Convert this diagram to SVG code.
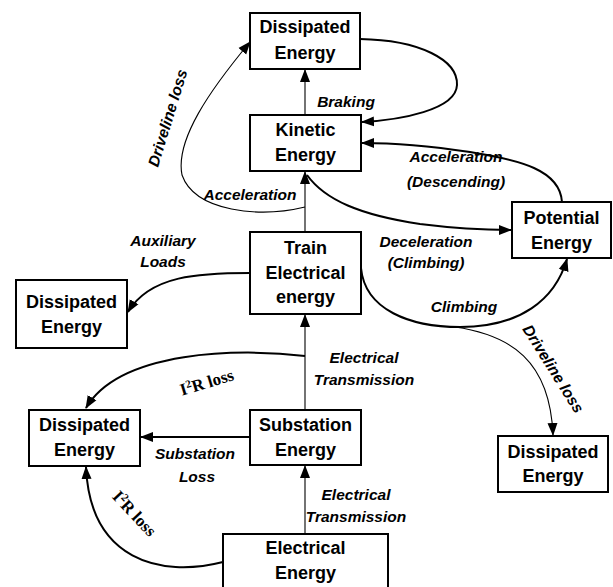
<svg xmlns="http://www.w3.org/2000/svg" width="613" height="587" viewBox="0 0 613 587">
<style>
.box{fill:#fff;stroke:#000;stroke-width:2}
.nt{font-family:"Liberation Sans",Arial,sans-serif;font-weight:bold;font-size:18px;text-anchor:middle;fill:#000}
.lb{font-family:"Liberation Sans",Arial,sans-serif;font-weight:bold;font-style:italic;font-size:15.5px;text-anchor:middle;fill:#000}
.sf{font-family:"Liberation Serif","Times New Roman",serif;font-weight:bold;font-size:17px;text-anchor:middle;fill:#000}
.thick{fill:none;stroke:#000;stroke-width:2;marker-end:url(#ah)}
.thin{fill:none;stroke:#000;stroke-width:1.1;marker-end:url(#ah)}
</style>
<defs>
<marker id="ah" markerUnits="userSpaceOnUse" markerWidth="13" markerHeight="11" refX="12" refY="5" orient="auto" viewBox="0 0 13 10">
<path d="M0,0 L13,5 L0,10 z" fill="#000"/>
</marker>
</defs>
<rect width="613" height="587" fill="#fff"/>
<g id="connectors">
<path class="thin" d="M305,115 L305,70"/>
<path class="thick" d="M360,39 C420,40 458,60 457,85 C456,110 400,120 362,122"/>
<path class="thick" d="M562,202 C560,170 520,160 470,152 C430,146 400,143 362,143"/>
<path class="thick" d="M307,175 C325,200 360,215 420,224 C460,229 490,230 511,230"/>
<path class="thin" d="M305,232 L305,172"/>
<path class="thin" d="M305,207 C260,218 195,212 182,175 C175,140 210,90 250,42"/>
<path class="thick" d="M250,273 C200,273 150,275 128,312"/>
<path class="thick" d="M361,268 C365,310 410,327 460,327 C520,327 555,300 567,259"/>
<path class="thin" d="M455,327 C510,335 550,360 553,435"/>
<path class="thin" d="M305,410 L305,315"/>
<path class="thick" d="M305,356 C240,348 120,350 86,408"/>
<path class="thick" d="M250,437 L141,437"/>
<path class="thin" d="M305,534 L305,466"/>
<path class="thick" d="M223,562 C160,578 90,560 86,467"/>
</g>
<g id="labels">
<text class="lb" x="346" y="107">Braking</text>
<text class="lb" x="250" y="200">Acceleration</text>
<text class="lb" x="456" y="162">Acceleration</text>
<text class="lb" x="456" y="187">(Descending)</text>
<text class="lb" x="426" y="247">Deceleration</text>
<text class="lb" x="426" y="268">(Climbing)</text>
<text class="lb" x="464" y="312">Climbing</text>
<text class="lb" x="163" y="246">Auxiliary</text>
<text class="lb" x="163" y="267">Loads</text>
<text class="lb" x="364" y="363">Electrical</text>
<text class="lb" x="364" y="385">Transmission</text>
<text class="lb" x="195" y="459">Substation</text>
<text class="lb" x="197" y="482">Loss</text>
<text class="lb" x="356" y="500">Electrical</text>
<text class="lb" x="356" y="522">Transmission</text>
<text class="lb" transform="translate(168,118) rotate(-73)" x="0" y="5">Driveline loss</text>
<text class="lb" transform="translate(553,369) rotate(58)" x="0" y="5">Driveline loss</text>
<text class="sf" transform="translate(207,383) rotate(-17)" x="0" y="5">I<tspan font-size="11" dy="-6">2</tspan><tspan dy="6">R loss</tspan></text>
<text class="sf" transform="translate(134,514) rotate(47)" x="0" y="5">I<tspan font-size="11" dy="-6">2</tspan><tspan dy="6">R loss</tspan></text>
</g>
<g id="n_diss_top">
<rect class="box" x="250" y="13" width="110" height="56"/>
<text class="nt" x="305" y="33">Dissipated</text>
<text class="nt" x="305" y="59">Energy</text>
</g>
<g id="n_kinetic">
<rect class="box" x="250" y="115" width="111" height="56"/>
<text class="nt" x="305.5" y="136">Kinetic</text>
<text class="nt" x="305.5" y="161">Energy</text>
</g>
<g id="n_train">
<rect class="box" x="250" y="232" width="111" height="82"/>
<text class="nt" x="305.5" y="254">Train</text>
<text class="nt" x="305.5" y="279">Electrical</text>
<text class="nt" x="305.5" y="303">energy</text>
</g>
<g id="n_potential">
<rect class="box" x="512" y="202" width="99" height="56"/>
<text class="nt" x="561.5" y="224">Potential</text>
<text class="nt" x="561.5" y="249">Energy</text>
</g>
<g id="n_diss_mid">
<rect class="box" x="16" y="280" width="111" height="68"/>
<text class="nt" x="71.5" y="308">Dissipated</text>
<text class="nt" x="71.5" y="333">Energy</text>
</g>
<g id="n_diss_right">
<rect class="box" x="498" y="436" width="110" height="56"/>
<text class="nt" x="553" y="458">Dissipated</text>
<text class="nt" x="553" y="482">Energy</text>
</g>
<g id="n_diss_bl">
<rect class="box" x="29" y="410" width="111" height="56"/>
<text class="nt" x="84.5" y="431">Dissipated</text>
<text class="nt" x="84.5" y="456">Energy</text>
</g>
<g id="n_substation">
<rect class="box" x="250" y="410" width="111" height="55"/>
<text class="nt" x="305.5" y="431">Substation</text>
<text class="nt" x="305.5" y="456">Energy</text>
</g>
<g id="n_electrical">
<rect class="box" x="223" y="534" width="165" height="62"/>
<text class="nt" x="305.5" y="554">Electrical</text>
<text class="nt" x="305.5" y="579">Energy</text>
</g>
</svg>
